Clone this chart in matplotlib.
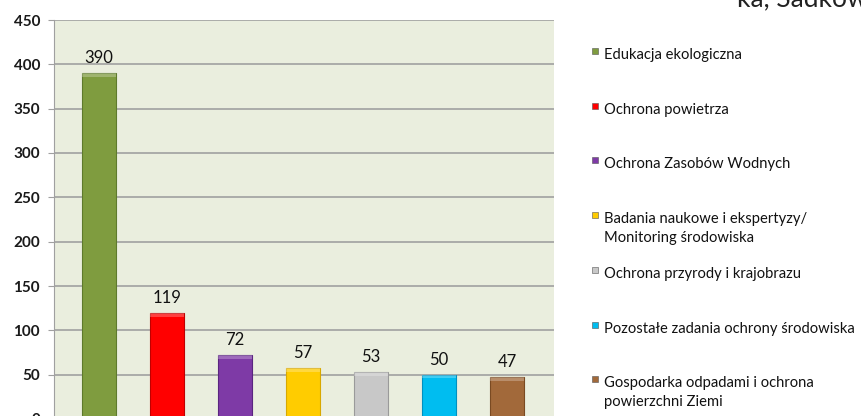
import matplotlib.pyplot as plt
from matplotlib.patches import Rectangle

categories = ["Edukacja ekologiczna", "Ochrona powietrza", "Ochrona Zasobów Wodnych",
              "Badania naukowe i ekspertyzy/\nMonitoring środowiska",
              "Ochrona przyrody i krajobrazu", "Pozostałe zadania ochrony środowiska",
              "Gospodarka odpadami i ochrona\npowierzchni Ziemi"]
values = [390, 119, 72, 57, 53, 50, 47]
colors = ["#7F9C3F", "#FF0000", "#7E3AA6", "#FFCC00", "#C8C8C8", "#00BDF0", "#A2693A"]
edges = ["#5E7A2C", "#C00000", "#5A2580", "#D8A800", "#9A9A9A", "#0090C0", "#7A4A22"]
yticks = [0, 50, 100, 150, 200, 250, 300, 350, 400, 450]

W, H = 861, 416
fig = plt.figure(figsize=(W / 100, H / 100), dpi=100)
plt.rcParams['font.family'] = ['Lato', 'DejaVu Sans']

# plot area: left 54px, right 554px, y=450 at 20px, y=0 at 419px (cropped below figure)
ax = fig.add_axes([54 / W, (H - 419) / H, 500 / W, 399 / H])
ax.set_facecolor("#EAEEDE")
x = list(range(len(values)))
ax.bar(x, values, width=0.5, color=colors, edgecolor=edges, linewidth=0.8, zorder=3)
# light bevel on top of bars
ax.bar(x, [4] * len(values), bottom=[v - 4 for v in values], width=0.5,
       color="white", alpha=0.25, linewidth=0, zorder=4)
for xi, v in zip(x, values):
    ax.text(xi, v + 8, str(v), ha="center", va="bottom", fontsize=12, color="#111111")

ax.set_xlim(-0.662, 6.69)
ax.set_ylim(0, 450)
ax.set_yticks(yticks)
ax.set_yticklabels([str(t) for t in yticks], fontsize=11, fontweight="bold", color="#1a1a1a")
ax.set_xticks([])
ax.yaxis.grid(True, color="#A0A0A0", linewidth=1.2, zorder=0)
ax.set_axisbelow(True)
for s in ["top", "right", "bottom"]:
    ax.spines[s].set_visible(False)
ax.spines["left"].set_color("#A0A0A0")
ax.tick_params(axis="y", length=4, color="#A0A0A0", pad=6)

# legend, placed by hand to follow the uneven line layout
top = 57
step = 54.7
for i, (lab, c) in enumerate(zip(categories, colors)):
    yc = top + step * i
    fig.add_artist(Rectangle((592 / W, 1 - (yc - 3) / H), 6 / W, 6 / H,
                             transform=fig.transFigure, facecolor=c,
                             edgecolor="#555555", linewidth=0.4))
    fig.text(604 / W, 1 - (yc - 9) / H, lab, ha="left", va="top",
             fontsize=10.6, color="#111111", linespacing=1.45)

fig.text(737 / W, 1 + 14 / H, "ka, Sadkow", ha="left", va="top", fontsize=19, color="#222222")

fig.savefig("out.png", dpi=100, facecolor="white")
